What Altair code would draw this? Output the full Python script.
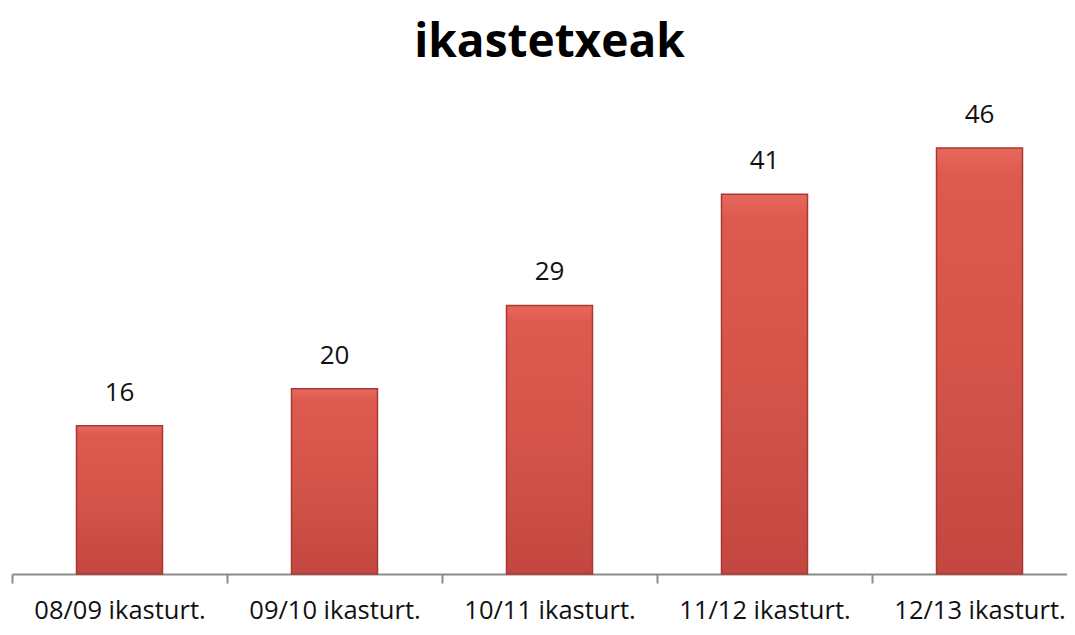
import altair as alt
import pandas as pd

labels = ["08/09 ikasturt.", "09/10 ikasturt.", "10/11 ikasturt.", "11/12 ikasturt.", "12/13 ikasturt."]
values = [16, 20, 29, 41, 46]

df = pd.DataFrame({"label": labels, "value": values})

FONT = "Open Sans"

x_enc = alt.X(
    "label:N",
    sort=None,
    scale=alt.Scale(paddingInner=0, paddingOuter=0, range=[0, 1075]),
    axis=alt.Axis(
        title=None,
        labelAngle=0,
        tickBand="extent",
        domainColor="#8c8c8c",
        domainWidth=2,
        tickColor="#8c8c8c",
        tickWidth=2,
        tickSize=9,
        labelFontSize=25.5,
        labelFont=FONT,
        labelColor="#111111",
        labelBaseline="alphabetic",
        labelPadding=35,
        labelLimit=400,
    ),
)
y_enc = alt.Y("value:Q", scale=alt.Scale(domain=[0, 50]), axis=None)

base = alt.Chart(df).encode(x=x_enc, y=y_enc)

bars = base.mark_bar(
    width=alt.RelativeBandSize(0.4),
    stroke="#a63a33",
    strokeWidth=1.5,
    color=alt.Gradient(
        gradient="linear",
        stops=[
            alt.GradientStop(color="#e8685d", offset=0),
            alt.GradientStop(color="#de5a4f", offset=0.06),
            alt.GradientStop(color="#d4544a", offset=0.5),
            alt.GradientStop(color="#c34740", offset=1),
        ],
        x1=0, x2=0, y1=0, y2=1,
    ),
)

text = base.mark_text(
    dy=-33, baseline="middle", fontSize=26, font=FONT, color="#111111"
).encode(text="value:Q")

chart = (
    (bars + text)
    .properties(
        width=1055,
        height=463,
        padding={"left": 4, "top": 103, "right": 0, "bottom": 53},
        autosize=alt.AutoSizeParams(type="none"),
        background="white",
        title=alt.TitleParams(
            "ikastetxeak",
            fontSize=46,
            font=FONT,
            fontWeight="bold",
            color="#000000",
            anchor="middle",
            offset=35,
            dx=10,
        ),
    )
    .configure_view(stroke=None)
)

chart.save("out.html", embed_options={"renderer": "svg", "actions": False})
